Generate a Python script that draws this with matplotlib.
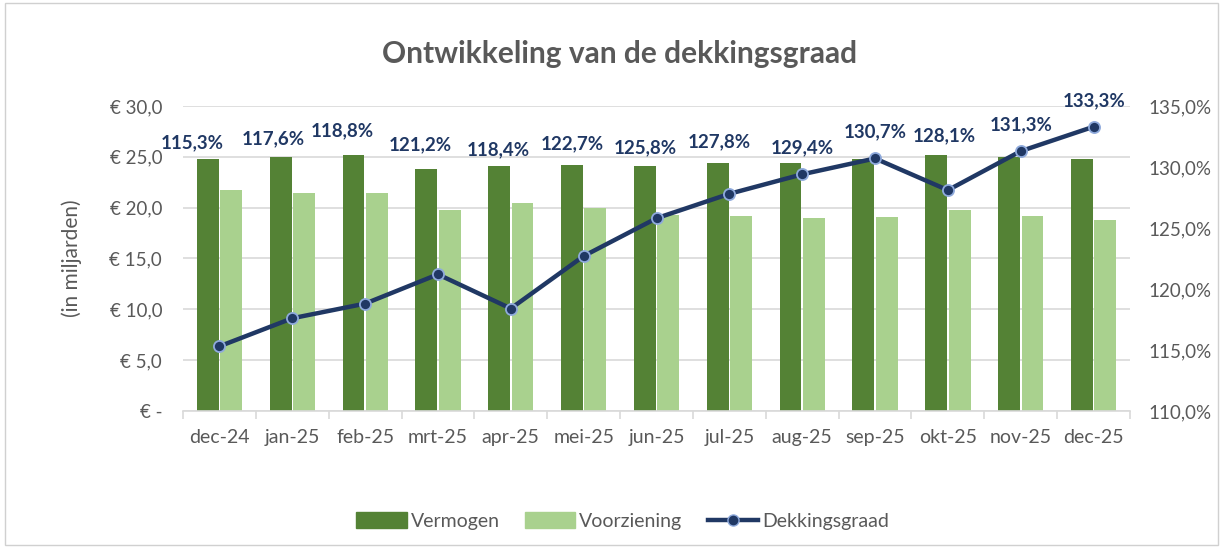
import numpy as np
import matplotlib
matplotlib.use("Agg")
import matplotlib.pyplot as plt
from matplotlib.lines import Line2D
from matplotlib.patches import Patch, Rectangle
from matplotlib.ticker import FuncFormatter, MultipleLocator

plt.rcParams['font.family'] = ['Lato', 'DejaVu Sans']

# data
months = ["dec-24", "jan-25", "feb-25", "mrt-25", "apr-25", "mei-25", "jun-25",
          "jul-25", "aug-25", "sep-25", "okt-25", "nov-25", "dec-25"]
vermogen = [24.8, 25.0, 25.2, 23.8, 24.1, 24.2, 24.1, 24.4, 24.4, 24.8, 25.2, 25.0, 24.8]
voorziening = [21.7, 21.4, 21.4, 19.8, 20.5, 20.0, 19.3, 19.2, 19.0, 19.1, 19.8, 19.2, 18.8]
dekkingsgraad = [115.3, 117.6, 118.8, 121.2, 118.4, 122.7, 125.8, 127.8, 129.4, 130.7, 128.1, 131.3, 133.3]

# manual label placement (left axis units, category offsets)
label_y = [26.4, 26.8, 27.6, 26.2, 25.7, 26.3, 25.9, 26.5, 25.9, 27.5, 27.1, 28.2, 30.5]
label_dx = [-0.37, -0.26, -0.31, -0.24, -0.17, -0.15, -0.16, -0.14, 0, 0, -0.05, 0, 0]

DARK = "#548235"
LIGHT = "#A9D18E"
NAVY = "#203864"
GREY = "#595959"

fig = plt.figure(figsize=(12.23, 5.48), dpi=100)
ax = fig.add_axes([0.1496, 0.25, 0.7744, 0.5566])
ax2 = ax.twinx()

x = np.arange(len(months))
w = 0.30
ax.bar(x - 0.16, vermogen, w, color=DARK, zorder=2)
ax.bar(x + 0.16, voorziening, w, color=LIGHT, zorder=2)

ax.set_xlim(-0.5, len(months) - 0.5)
ax.set_ylim(0, 30)
ax.yaxis.set_major_locator(MultipleLocator(5))
ax.yaxis.set_major_formatter(FuncFormatter(
    lambda v, p: "€ -" if v == 0 else "€ " + f"{v:.1f}".replace(".", ",")))
ax.grid(axis="y", color="#D9D9D9", linewidth=1.2, zorder=0)
ax.set_axisbelow(True)
for s in ["top", "right", "left"]:
    ax.spines[s].set_visible(False)
    ax2.spines[s].set_visible(False)
ax.spines["bottom"].set_color("#D9D9D9")
ax.spines["bottom"].set_linewidth(1.2)
ax2.spines["bottom"].set_visible(False)

ax.set_xticks(x)
ax.set_xticklabels(months)
ax.set_xticks(np.arange(-0.5, len(months)), minor=True)
ax.tick_params(axis="x", which="major", length=0, pad=13, labelsize=14, labelcolor=GREY)
ax.tick_params(axis="x", which="minor", length=6, color="#D9D9D9", width=1.2)
ax.tick_params(axis="y", length=0, pad=15, labelsize=13.5, labelcolor=GREY)
ax.set_ylabel("(in miljarden)", fontsize=15, color=GREY)
ax.yaxis.set_label_coords(-0.107, 0.5)

ax2.plot(x, dekkingsgraad, color=NAVY, linewidth=3.2, marker="o", markersize=8,
         markerfacecolor=NAVY, markeredgecolor="#8FAADC", markeredgewidth=1.3, zorder=4)
ax2.set_ylim(110, 135)
ax2.yaxis.set_major_locator(MultipleLocator(5))
ax2.yaxis.set_major_formatter(FuncFormatter(lambda v, p: f"{v:.1f}%".replace(".", ",")))
ax2.tick_params(axis="y", length=0, pad=13, labelsize=13.5, labelcolor=GREY)

for i, d in enumerate(dekkingsgraad):
    ax.text(x[i] + label_dx[i], label_y[i], f"{d:.1f}%".replace(".", ","),
            ha="center", va="center", fontsize=13.5, fontweight="bold", color=NAVY, zorder=5)

fig.text(0.507, 0.902, "Ontwikkeling van de dekkingsgraad", ha="center", va="center",
         fontsize=21.5, fontweight="bold", color=GREY)

handles = [Patch(color=DARK), Patch(color=LIGHT),
           Line2D([0], [0], color=NAVY, linewidth=3.2, marker="o", markersize=8,
                  markerfacecolor=NAVY, markeredgecolor="#8FAADC")]
fig.legend(handles, ["Vermogen", "Voorziening", "Dekkingsgraad"], loc="center",
           bbox_to_anchor=(0.509, 0.049), ncol=3, frameon=False, fontsize=14,
           labelcolor=GREY, handlelength=2.6, handleheight=0.9, columnspacing=1.3,
           handletextpad=0.2)

fig.patches.append(Rectangle((0.004, 0.006), 0.992, 0.988, transform=fig.transFigure,
                             fill=False, edgecolor="#D0D0D0", linewidth=1))

fig.savefig("out.png", dpi=100)
